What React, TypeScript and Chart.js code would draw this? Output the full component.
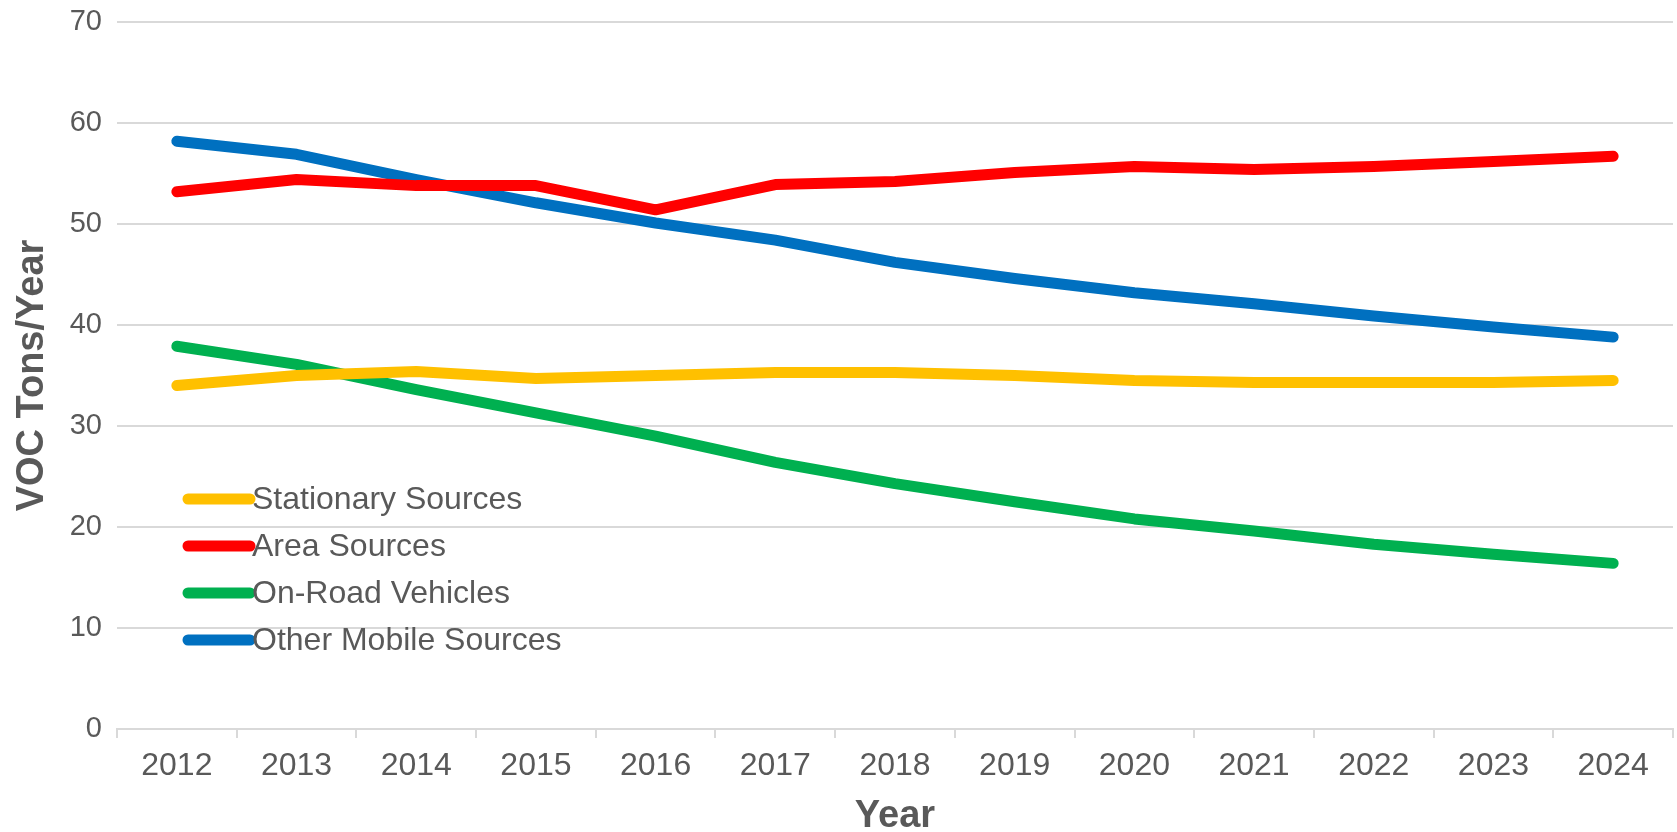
import React, { useEffect, useRef } from "react";
import { Chart, registerables } from "chart.js";

Chart.register(...registerables);

const years = ["2012", "2013", "2014", "2015", "2016", "2017", "2018", "2019", "2020", "2021", "2022", "2023", "2024"];
const stationary = [34.0, 35.0, 35.4, 34.7, 35.0, 35.3, 35.3, 35.0, 34.5, 34.3, 34.3, 34.3, 34.5];
const area = [53.2, 54.4, 53.8, 53.8, 51.4, 53.9, 54.2, 55.1, 55.7, 55.4, 55.7, 56.2, 56.7];
const onRoad = [37.9, 36.1, 33.6, 31.3, 29.0, 26.4, 24.3, 22.5, 20.8, 19.6, 18.3, 17.3, 16.4];
const otherMobile = [58.2, 56.9, 54.4, 52.1, 50.1, 48.4, 46.2, 44.6, 43.2, 42.1, 40.9, 39.8, 38.8];

const seriesNames = ["Stationary Sources", "Area Sources", "On-Road Vehicles", "Other Mobile Sources"];
const seriesColors = ["#FFC000", "#FF0000", "#00B050", "#0070C0"];

const FONT = "'Liberation Sans', Arial, sans-serif";
const TEXT = "#595959";
const GRID = "#D9D9D9";

const insideLegend = {
  id: "insideLegend",
  afterDatasetsDraw(chart: any) {
    const { ctx, chartArea } = chart;
    const x0 = chartArea.left + 71;
    const x1 = chartArea.left + 133;
    const tx = chartArea.left + 135;
    const yStart = 499;
    const step = 47;
    ctx.save();
    chart.data.datasets.forEach((ds: any, i: number) => {
      const y = yStart + i * step;
      ctx.strokeStyle = ds.borderColor;
      ctx.lineWidth = 11;
      ctx.lineCap = "round";
      ctx.beginPath();
      ctx.moveTo(x0, y);
      ctx.lineTo(x1, y);
      ctx.stroke();
      ctx.fillStyle = TEXT;
      ctx.font = `32px ${FONT}`;
      ctx.textBaseline = "middle";
      ctx.textAlign = "left";
      ctx.fillText(ds.label, tx, y + 1);
    });
    ctx.restore();
  },
};

export default function App() {
  const ref = useRef<HTMLCanvasElement | null>(null);

  useEffect(() => {
    document.body.style.margin = "0";
    const values = [stationary, area, onRoad, otherMobile];
    const chart = new Chart(ref.current as HTMLCanvasElement, {
      type: "line",
      data: {
        labels: years,
        datasets: seriesNames.map((name, i) => ({
          label: name,
          data: values[i],
          borderColor: seriesColors[i],
          backgroundColor: seriesColors[i],
          borderWidth: 11,
          pointRadius: 0,
          tension: 0,
          borderCapStyle: "round",
          borderJoinStyle: "round",
          fill: false,
        })),
      },
      options: {
        animation: false,
        responsive: false,
        devicePixelRatio: 1,
        layout: { padding: { top: 22, right: 4, left: 0, bottom: 0 } },
        plugins: {
          legend: { display: false },
          tooltip: { enabled: false },
        },
        scales: {
          x: {
            offset: true,
            grid: {
              offset: true,
              drawOnChartArea: false,
              drawTicks: true,
              tickLength: 9,
              color: GRID,
              lineWidth: 2,
            },
            border: { display: true, color: GRID, width: 2 },
            ticks: {
              color: TEXT,
              font: { family: FONT, size: 32 },
              padding: 9,
              maxRotation: 0,
              autoSkip: false,
            },
            title: {
              display: true,
              text: "Year",
              color: TEXT,
              font: { family: FONT, size: 38, weight: "bold", lineHeight: 0.8 },
              padding: { top: 0, bottom: 0 },
            },
            afterFit(scale: any) {
              scale.height = 103;
              scale.paddingLeft = 0;
              scale.paddingRight = 0;
            },
          },
          y: {
            min: 0,
            max: 70,
            ticks: {
              stepSize: 10,
              color: TEXT,
              font: { family: FONT, size: 29 },
              padding: 15,
            },
            grid: { color: GRID, lineWidth: 2, drawTicks: false },
            border: { display: false },
            title: {
              display: true,
              text: "VOC Tons/Year",
              color: TEXT,
              font: { family: FONT, size: 38, weight: "bold", lineHeight: 1.2 },
              padding: { top: 10, bottom: 0 },
            },
            afterFit(scale: any) {
              scale.width = 117;
              scale.paddingTop = 0;
              scale.paddingBottom = 0;
            },
          },
        },
      },
      plugins: [insideLegend],
    });
    return () => chart.destroy();
  }, []);

  return (
    <div style={{ width: 1677, height: 832, background: "#fff" }}>
      <canvas ref={ref} width={1677} height={832} style={{ display: "block" }} />
    </div>
  );
}
